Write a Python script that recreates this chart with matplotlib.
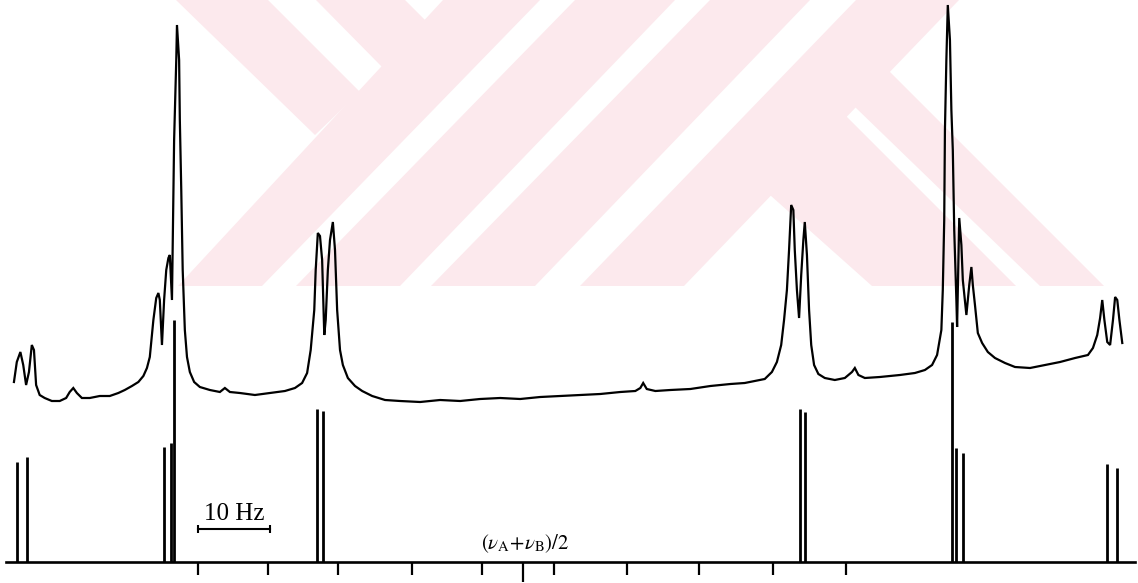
import numpy as np
import matplotlib
matplotlib.use("Agg")
import matplotlib.pyplot as plt
from matplotlib.patches import Polygon

plt.rcParams['mathtext.fontset'] = 'stix'

# observed spectrum (frequency in Hz from the centre, height in plot units)
obs_hz = [-71.2, -70.8, -70.3, -69.9, -69.5, -69.1, -68.7, -68.4, -68.1, -67.6,
          -66.9, -65.9, -64.8, -63.9, -63.4, -62.9, -62.4, -61.7, -60.6, -59.2,
          -57.8, -56.6, -55.7, -54.7, -53.8, -53.1, -52.6, -52.2, -51.7, -51.3,
          -51.0, -50.8, -50.5, -50.2, -49.9, -49.6, -49.4, -49.1, -48.8, -48.5,
          -48.4, -48.1, -48.0, -47.8, -47.6, -47.3, -47.0, -46.6, -46.0, -45.2,
          -43.8, -42.4, -41.7, -41.0, -39.6, -37.5, -35.4, -33.3, -31.9, -30.9,
          -30.2, -29.7, -29.2, -29.0, -28.7, -28.4, -28.1, -27.8, -27.6, -27.3,
          -27.0, -26.6, -26.3, -26.0, -25.6, -25.2, -24.5, -23.5, -22.5, -21.1,
          -19.3, -17.2, -14.4, -11.6, -8.8, -6.0, -3.2, -0.4, 2.4, 5.2,
          8.0, 10.8, 13.6, 15.7, 16.4, 16.8, 17.3, 18.5, 20.6, 23.4,
          26.2, 29.0, 31.0, 32.4, 33.8, 34.8, 35.5, 36.1, 36.5, 36.9,
          37.2, 37.5, 37.8, 38.0, 38.3, 38.6, 38.9, 39.2, 39.4, 39.7,
          40.0, 40.3, 40.7, 41.3, 42.2, 43.6, 45.0, 46.0, 46.4, 46.9,
          47.8, 49.9, 52.7, 54.8, 56.2, 57.2, 57.9, 58.5, 58.7, 58.9,
          59.0, 59.2, 59.4, 59.7, 59.9, 60.1, 60.3, 60.6, 60.7, 61.0,
          61.3, 61.5, 62.0, 62.4, 62.7, 62.9, 63.2, 63.6, 64.2, 65.0,
          66.0, 67.4, 68.8, 70.9, 73.0, 75.1, 77.2, 79.0, 79.7, 80.3,
          80.7, 81.0, 81.3, 81.7, 82.1, 82.5, 82.8, 83.1, 83.4, 83.8]
obs_int = [180, 200, 210, 197, 177, 190, 217, 212, 177, 167,
           164, 161, 161, 164, 170, 174, 169, 164, 164, 166,
           166, 169, 172, 176, 180, 186, 194, 205, 242, 264,
           269, 262, 217, 262, 292, 304, 307, 262, 422, 502,
           537, 502, 442, 372, 292, 232, 205, 190, 180, 175,
           172, 170, 174, 170, 169, 167, 169, 171, 174, 179,
           189, 212, 252, 292, 329, 326, 302, 227, 242, 292,
           322, 340, 312, 252, 212, 197, 184, 176, 171, 166,
           162, 161, 160, 162, 161, 163, 164, 163, 165, 166,
           167, 168, 170, 171, 174, 179, 173, 171, 172, 173,
           176, 178, 179, 181, 183, 190, 200, 217, 242, 272,
           312, 357, 352, 312, 272, 244, 287, 322, 340, 307,
           252, 217, 197, 188, 184, 182, 184, 190, 194, 187,
           184, 185, 187, 189, 192, 197, 207, 232, 272, 342,
           432, 502, 557, 522, 452, 412, 332, 262, 235, 344,
           317, 282, 247, 277, 295, 277, 257, 229, 219, 210,
           204, 199, 195, 194, 197, 200, 204, 207, 214, 227,
           244, 262, 242, 220, 217, 242, 265, 262, 242, 219]

# calculated stick spectrum
stick_hz = [-70.8, -69.4, -50.2, -49.2, -48.8, -28.8, -28.0,
            38.7, 39.4, 60.0, 60.6, 61.5, 81.7, 83.1]
stick_int = [100, 105, 115, 119, 242, 153, 151,
             153, 150, 240, 114, 109, 98, 94]

# frequency ticks under the baseline (10 Hz apart) and the centre mark
tick_hz = [-45.5, -35.7, -25.9, -15.5, -5.7, 4.3, 14.5, 24.6, 35.0, 45.2]
centre_hz = 0.0
scale_bar = [-45.4, -35.4]

# faint watermark behind the chart (pixel outline of the stripes)
watermark = [
    [(443, 0), (540, 0), (262, 286), (178, 286)],
    [(575, 0), (675, 0), (400, 286), (296, 286)],
    [(710, 0), (810, 0), (535, 286), (431, 286)],
    [(856, 0), (959, 0), (684, 286), (580, 286)],
    [(176, 0), (268, 0), (360, 92), (315, 135)],
    [(316, 0), (405, 0), (430, 25), (385, 70)],
    [(770, 195), (846, 116), (1016, 286), (872, 286)],
    [(889, 71), (855, 107), (1040, 286), (1104, 286)],
]

fig = plt.figure(figsize=(11.38, 5.83), dpi=100)

bg = fig.add_axes([0, 0, 1, 1], zorder=0)
bg.set_xlim(0, 1138)
bg.set_ylim(583, 0)
bg.axis('off')
for poly in watermark:
    bg.add_patch(Polygon(poly, closed=True, facecolor='#fce9ed', edgecolor='none'))

ax = fig.add_axes([0, 0, 1, 1], zorder=1)
ax.patch.set_alpha(0)
ax.set_xlim(-73.15, 86.0)
ax.set_ylim(-21, 562)
ax.axis('off')

# observed trace
ax.plot(obs_hz, obs_int, color='black', lw=1.6, solid_joinstyle='miter')

# sticks
ax.vlines(stick_hz, 0, stick_int, color='black', lw=2.0)

# baseline
ax.axhline(0, xmin=0.005, xmax=0.997, color='black', lw=1.9)

# ticks below the baseline
ax.vlines(tick_hz, -13, 0, color='black', lw=1.6)
ax.vlines([centre_hz], -20, 0, color='black', lw=1.6)

# 10 Hz scale bar
ax.plot(scale_bar, [33, 33], color='black', lw=1.5)
ax.vlines(scale_bar, 29, 37, color='black', lw=1.5)
ax.text(np.mean(scale_bar), 42, '10 Hz', ha='center', va='baseline',
        fontsize=18, family='Liberation Serif')

ax.text(0.3, 13, r'$(\nu_{\mathrm{A}}\!+\!\nu_{\mathrm{B}})/2$', ha='center',
        va='baseline', fontsize=15)

fig.savefig('out.png', dpi=100)
